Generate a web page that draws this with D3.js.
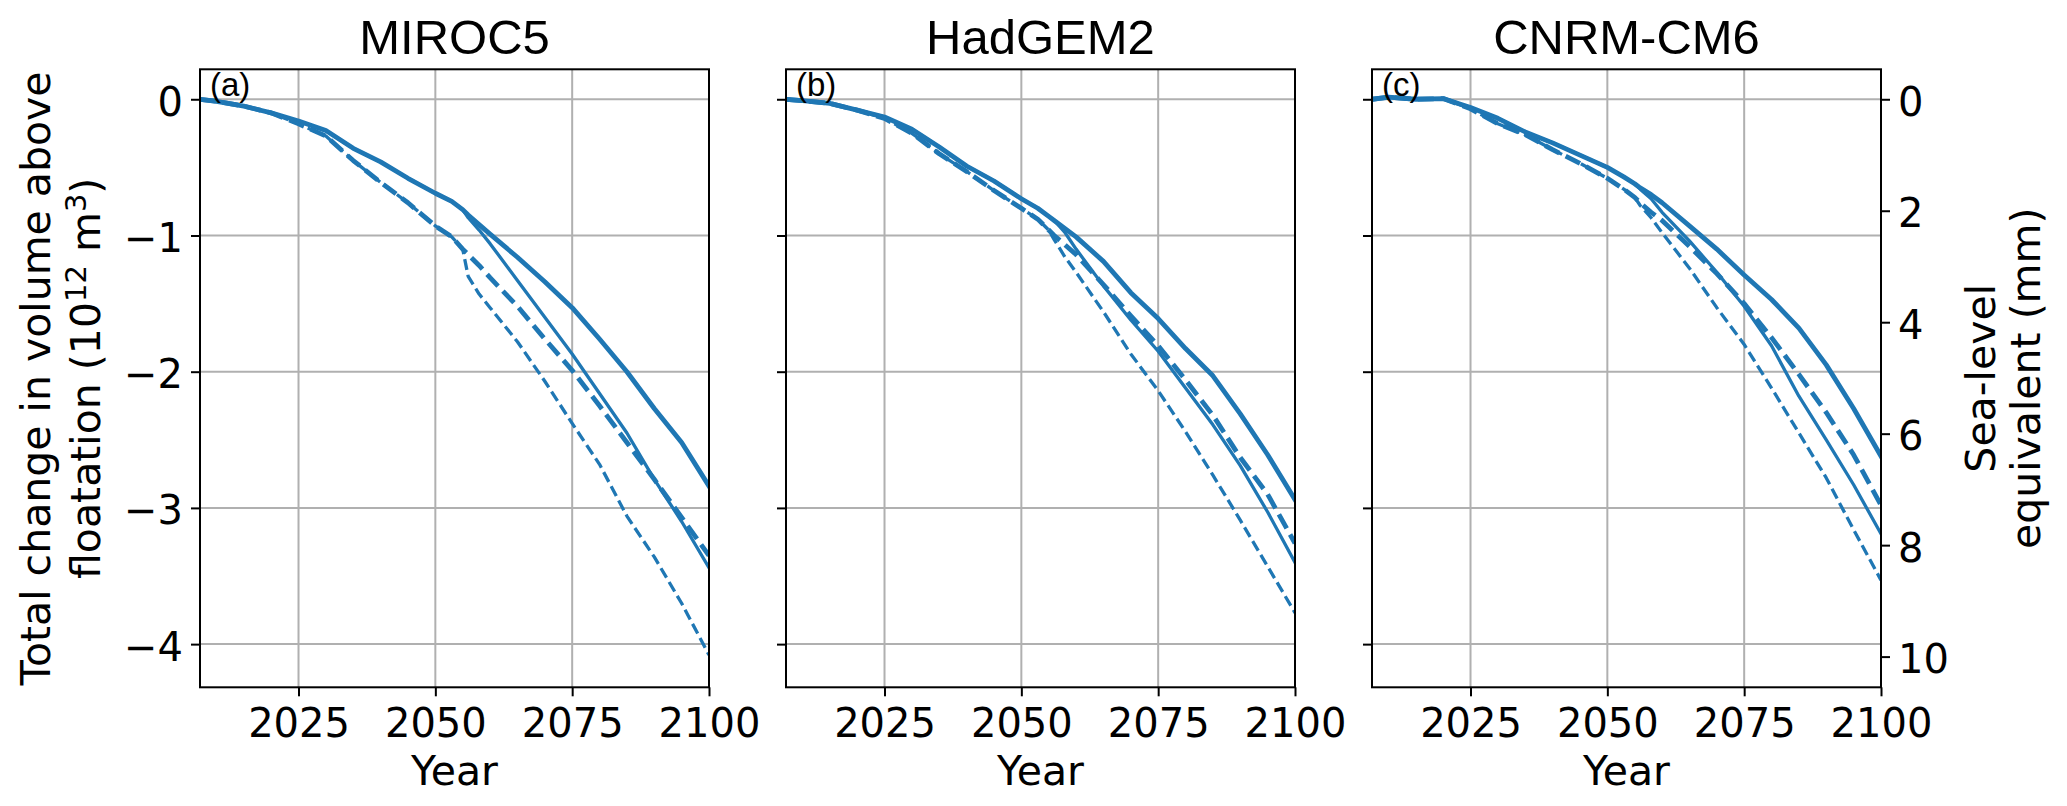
<!DOCTYPE html>
<html>
<head>
<meta charset="utf-8">
<script src="https://cdn.jsdelivr.net/npm/d3@7"></script>
<style>
  html, body { margin: 0; padding: 0; background: #ffffff; }
  svg { display: block; }
</style>
</head>
<body>
<script>
// ---------------- data ----------------
const years = [2007, 2010, 2015, 2020, 2025, 2030, 2035, 2040, 2045, 2050, 2053, 2055, 2056, 2058, 2060, 2065, 2070, 2075, 2080, 2085, 2090, 2095, 2100];

const panelTitles = ["MIROC5", "HadGEM2", "CNRM-CM6"];
const panelLetters = ["(a)", "(b)", "(c)"];
const xTicks = [2025, 2050, 2075, 2100];
const yTicks = [0, -1, -2, -3, -4];
const slrTicks = [0, 2, 4, 6, 8, 10];

// Panel (a) MIROC5
const miroc5SolidA = [0, -0.015, -0.05, -0.10, -0.16, -0.23, -0.36, -0.46, -0.58, -0.69, -0.75, -0.81, -0.85, -0.92, -0.99, -1.16, -1.34, -1.53, -1.76, -2.00, -2.27, -2.52, -2.84];
const miroc5SolidB = [0, -0.015, -0.05, -0.10, -0.16, -0.23, -0.36, -0.46, -0.58, -0.69, -0.75, -0.81, -0.87, -0.96, -1.06, -1.33, -1.60, -1.87, -2.16, -2.45, -2.79, -3.10, -3.44];
const miroc5DashA  = [0, -0.015, -0.05, -0.10, -0.18, -0.27, -0.45, -0.61, -0.76, -0.93, -1.01, -1.10, -1.14, -1.22, -1.31, -1.52, -1.76, -1.99, -2.25, -2.52, -2.79, -3.07, -3.35];
const miroc5DashB  = [0, -0.015, -0.05, -0.10, -0.18, -0.27, -0.45, -0.61, -0.76, -0.93, -1.01, -1.10, -1.30, -1.43, -1.53, -1.78, -2.07, -2.38, -2.68, -3.06, -3.36, -3.70, -4.08];

// Panel (b) HadGEM2
const hadgemSolidA = [0, -0.01, -0.03, -0.08, -0.13, -0.22, -0.35, -0.49, -0.60, -0.73, -0.80, -0.86, -0.89, -0.95, -1.01, -1.19, -1.42, -1.61, -1.83, -2.03, -2.31, -2.61, -2.94];
const hadgemSolidB = [0, -0.01, -0.03, -0.08, -0.13, -0.22, -0.35, -0.49, -0.60, -0.73, -0.80, -0.86, -0.89, -0.98, -1.10, -1.37, -1.62, -1.85, -2.12, -2.39, -2.69, -3.03, -3.40];
const hadgemDashA  = [0, -0.01, -0.03, -0.08, -0.14, -0.25, -0.40, -0.53, -0.67, -0.80, -0.88, -0.96, -1.00, -1.07, -1.14, -1.36, -1.59, -1.81, -2.06, -2.32, -2.63, -2.90, -3.26];
const hadgemDashB  = [0, -0.01, -0.03, -0.08, -0.14, -0.25, -0.40, -0.53, -0.67, -0.80, -0.88, -0.96, -1.03, -1.16, -1.27, -1.56, -1.87, -2.14, -2.44, -2.76, -3.09, -3.43, -3.77];

// Panel (c) CNRM-CM6
const cnrmSolidA = [0, 0.015, 0.0, 0.005, -0.06, -0.14, -0.24, -0.32, -0.41, -0.50, -0.57, -0.62, -0.65, -0.70, -0.76, -0.93, -1.10, -1.29, -1.47, -1.68, -1.95, -2.27, -2.62];
const cnrmSolidB = [0, 0.015, 0.0, 0.005, -0.06, -0.14, -0.24, -0.32, -0.41, -0.50, -0.57, -0.62, -0.66, -0.73, -0.83, -1.04, -1.27, -1.52, -1.81, -2.18, -2.50, -2.83, -3.19];
const cnrmDashA  = [0, 0.015, 0.0, 0.005, -0.07, -0.18, -0.26, -0.37, -0.47, -0.58, -0.66, -0.72, -0.76, -0.83, -0.89, -1.08, -1.28, -1.50, -1.75, -2.02, -2.30, -2.61, -2.98];
const cnrmDashB  = [0, 0.015, 0.0, 0.005, -0.07, -0.18, -0.26, -0.37, -0.47, -0.58, -0.66, -0.72, -0.78, -0.87, -0.98, -1.24, -1.53, -1.80, -2.12, -2.45, -2.78, -3.16, -3.53];

const panelSeries = [
  [miroc5SolidA, miroc5SolidB, miroc5DashA, miroc5DashB],
  [hadgemSolidA, hadgemSolidB, hadgemDashA, hadgemDashB],
  [cnrmSolidA, cnrmSolidB, cnrmDashA, cnrmDashB]
];

// ---------------- layout / style ----------------
const FONT = "DejaVu Sans";
const TITLE_FONT = "Liberation Sans";
const BLUE = "#1f77b4";
const lineStyles = [
  { w: 4.8, dash: null },
  { w: 3.3, dash: null },
  { w: 4.8, dash: "16,7" },
  { w: 3.3, dash: "11,5" }
];
const panelLeft = [200, 786, 1372];
const panelW = 509;
const plotTop = 69.3, plotBottom = 687.3;
const mmPerUnit = 2.444;
const yDomain = [-4.317, 0.22];

const svg = d3.select("body").append("svg")
  .attr("width", 2067).attr("height", 806)
  .attr("font-family", FONT);
svg.append("rect").attr("width", 2067).attr("height", 806).attr("fill", "#fff");

const y = d3.scaleLinear().domain(yDomain).range([plotBottom, plotTop]);
const yR = d3.scaleLinear().domain([-yDomain[1] * mmPerUnit, -yDomain[0] * mmPerUnit]).range([plotTop, plotBottom]);

function styleAxis(g, fs) {
  g.select(".domain").remove();
  g.selectAll(".tick line").attr("stroke", "#000").attr("stroke-width", 2);
  g.selectAll(".tick text").attr("font-size", fs).attr("font-family", FONT).attr("fill", "#000");
  g.attr("font-size", null).attr("font-family", null);
}

panelSeries.forEach((series, i) => {
  const x0 = panelLeft[i];
  const x = d3.scaleLinear().domain([2007, 2100]).range([x0, x0 + panelW]);
  const g = svg.append("g");

  // grid
  g.append("g").selectAll("line").data(xTicks).join("line")
    .attr("x1", d => x(d)).attr("x2", d => x(d))
    .attr("y1", plotTop).attr("y2", plotBottom)
    .attr("stroke", "#b0b0b0").attr("stroke-width", 2);
  g.append("g").selectAll("line").data(yTicks).join("line")
    .attr("x1", x0).attr("x2", x0 + panelW)
    .attr("y1", d => y(d)).attr("y2", d => y(d))
    .attr("stroke", "#b0b0b0").attr("stroke-width", 2);

  // clip
  const clipId = "clip" + i;
  svg.append("clipPath").attr("id", clipId).append("rect")
    .attr("x", x0).attr("y", plotTop).attr("width", panelW).attr("height", plotBottom - plotTop);

  const line = d3.line().x((d, k) => x(years[k])).y(d => y(d));
  const lg = g.append("g").attr("clip-path", `url(#${clipId})`);
  series.forEach((vals, s) => {
    const st = lineStyles[s];
    lg.append("path").datum(vals)
      .attr("d", line)
      .attr("fill", "none")
      .attr("stroke", BLUE)
      .attr("stroke-width", st.w)
      .attr("stroke-linejoin", "round")
      .attr("stroke-linecap", st.dash ? "butt" : "square")
      .attr("stroke-dasharray", st.dash);
  });

  // frame
  g.append("rect").attr("x", x0).attr("y", plotTop).attr("width", panelW).attr("height", plotBottom - plotTop)
    .attr("fill", "none").attr("stroke", "#000").attr("stroke-width", 2);

  // x axis
  const gx = g.append("g").attr("transform", `translate(0,${plotBottom})`)
    .call(d3.axisBottom(x).tickValues(xTicks).tickFormat(d3.format("d")).tickSize(9).tickSizeOuter(0).tickPadding(12.5));
  styleAxis(gx, 40);

  // y axis (left)
  const gy = g.append("g").attr("transform", `translate(${x0},0)`)
    .call(d3.axisLeft(y).tickValues(yTicks).tickFormat(i === 0 ? d3.format("d") : () => "").tickSize(9).tickSizeOuter(0).tickPadding(8));
  styleAxis(gy, 40);
  gy.selectAll(".tick text").attr("dy", "0.40em");

  // right axis (sea-level equivalent) on last panel
  if (i === 2) {
    const gr = g.append("g").attr("transform", `translate(${x0 + panelW},0)`)
      .call(d3.axisRight(yR).tickValues(slrTicks).tickFormat(d3.format("d")).tickSize(9).tickSizeOuter(0).tickPadding(8));
    styleAxis(gr, 40);
    gr.selectAll(".tick text").attr("dy", "0.40em");
  }

  // title
  svg.append("text").attr("x", x0 + panelW / 2).attr("y", 53.5)
    .attr("text-anchor", "middle").attr("font-family", TITLE_FONT)
    .attr("font-size", 49).text(panelTitles[i]);

  // panel letter
  svg.append("text").attr("x", x0 + 10).attr("y", 96)
    .attr("font-family", TITLE_FONT).attr("font-size", 33).text(panelLetters[i]);

  // x label
  svg.append("text").attr("x", x0 + panelW / 2).attr("y", 785)
    .attr("text-anchor", "middle").attr("font-size", 41).text("Year");
});

// left y label (two lines)
const midY = (plotTop + plotBottom) / 2;
svg.append("text").attr("transform", `translate(50,${midY}) rotate(-90)`)
  .attr("text-anchor", "middle").attr("font-size", 41)
  .text("Total change in volume above");
const l2 = svg.append("text").attr("transform", `translate(100,${midY}) rotate(-90)`)
  .attr("text-anchor", "middle").attr("font-size", 41);
l2.append("tspan").text("floatation (10");
l2.append("tspan").attr("font-size", 29).attr("dy", -14).text("12");
l2.append("tspan").attr("dy", 14).text(" m");
l2.append("tspan").attr("font-size", 29).attr("dy", -14).text("3");
l2.append("tspan").attr("dy", 14).text(")");

// right y label
svg.append("text").attr("transform", `translate(1995,${midY}) rotate(-90)`)
  .attr("text-anchor", "middle").attr("font-size", 41).text("Sea-level");
svg.append("text").attr("transform", `translate(2040,${midY}) rotate(-90)`)
  .attr("text-anchor", "middle").attr("font-size", 41).text("equivalent (mm)");
</script>
</body>
</html>
